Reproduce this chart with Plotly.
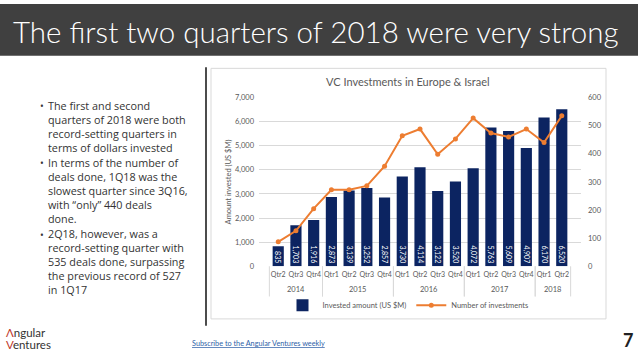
import plotly.graph_objects as go

W, H = 638, 359

# ---- data ----
years = ["2014"] * 3 + ["2015"] * 4 + ["2016"] * 4 + ["2017"] * 4 + ["2018"] * 2
quarters = ["Qtr2", "Qtr3", "Qtr4",
            "Qtr1", "Qtr2", "Qtr3", "Qtr4",
            "Qtr1", "Qtr2", "Qtr3", "Qtr4",
            "Qtr1", "Qtr2", "Qtr3", "Qtr4",
            "Qtr1", "Qtr2"]
invested = [835, 1703, 1916, 2873, 3139, 3252, 2857, 3730, 4114, 3122, 3520,
            4072, 5763, 5609, 4907, 6170, 6520]
deals = [87, 126, 205, 272, 272, 286, 356, 464, 488, 398, 453, 527, 474, 460,
         488, 440, 535]
left_ticks = [0, 1000, 2000, 3000, 4000, 5000, 6000, 7000]
right_ticks = [0, 100, 200, 300, 400, 500, 600]

title = "The first two quarters of 2018 were very strong"
chart_title = "VC Investments in Europe & Israel"
bullets = [
    ["The first and second", "quarters of 2018 were both",
     "record-setting quarters in", "terms of dollars invested"],
    ["In terms of the number of", "deals done, 1Q18 was the",
     "slowest quarter since 3Q16,", "with \u201conly\u201d 440 deals", "done."],
    ["2Q18, however, was a", "record-setting quarter with",
     "535 deals done, surpassing", "the previous record of 527", "in 1Q17"],
]

NAVY = "#0C2461"
ORANGE = "#ED7D31"
GRAY = "#595959"
FONT = "Lato"
BODY_FONT = "Open Sans"

cats = [f"{q} {y}" for q, y in zip(quarters, years)]


def px(x):
    return x / W


def py(y):
    return 1 - y / H


fig = go.Figure()
fig.add_trace(go.Bar(
    x=cats, y=invested, name="Invested amount (US $M)",
    marker=dict(color=NAVY, line=dict(width=0)),
    texttemplate="%{y:,}", textposition="inside", insidetextanchor="start",
    textangle=90, constraintext="none",
    textfont=dict(color="white", size=7, family=FONT),
    yaxis="y",
))
fig.add_trace(go.Scatter(
    x=cats, y=deals, name="Number of investments",
    mode="lines+markers", line=dict(color=ORANGE, width=2),
    marker=dict(color=ORANGE, size=5), yaxis="y2",
))

x0, x1 = px(259), px(581)
y0, y1 = py(269), py(96)

fig.update_layout(
    width=W, height=H, margin=dict(l=0, r=0, t=0, b=0),
    paper_bgcolor="white", plot_bgcolor="white",
    font=dict(family=FONT, color=GRAY),
    bargap=0.37,
    showlegend=True,
    legend=dict(orientation="h", x=px(408), xanchor="center", y=py(309),
                yanchor="middle", font=dict(size=7.5, color=GRAY),
                tracegroupgap=0, bgcolor="rgba(0,0,0,0)"),
    xaxis=dict(domain=[x0, x1], type="category", showgrid=False,
               showline=False, ticks="", tickangle=0,
               tickvals=cats, ticktext=quarters,
               tickfont=dict(size=7, color=GRAY), ticklabelstandoff=3),
    yaxis=dict(domain=[y0, y1], range=[0, 7000], tickvals=left_ticks,
               tickformat=",", showgrid=True, gridcolor="#D9D9D9",
               gridwidth=1, zeroline=False, showline=False,
               tickfont=dict(size=7.5, color=GRAY), ticklabelstandoff=4),
    yaxis2=dict(overlaying="y", side="right", range=[0, 600],
                tickvals=right_ticks, showgrid=False, zeroline=False,
                showline=False, tickfont=dict(size=7.5, color=GRAY),
                ticklabelstandoff=6),
)

shapes = [
    dict(type="rect", xref="paper", yref="paper", x0=0, x1=1, y0=py(53),
         y1=1, fillcolor="#404040", line=dict(width=0), layer="below"),
    dict(type="rect", xref="paper", yref="paper", x0=px(211), x1=px(606),
         y0=py(323), y1=py(66), line=dict(color="#D9D9D9", width=1),
         fillcolor="rgba(0,0,0,0)"),
    dict(type="line", xref="paper", yref="paper", x0=px(206), x1=px(206),
         y0=py(330), y1=py(65), line=dict(color="#111111", width=1.5)),
]

# year group labels and dividers, placed on the category axis
groups = []
for i, yv in enumerate(years):
    if not groups or groups[-1][0] != yv:
        groups.append([yv, i, i])
    else:
        groups[-1][2] = i
ann = []
for yv, a, b in groups:
    ann.append(dict(text=yv, x=(a + b) / 2, xref="x", y=py(293), yref="paper",
                    xanchor="center", yanchor="middle", showarrow=False,
                    font=dict(size=7.5, color=GRAY, family=FONT)))
    for edge in (a - 0.5, b + 0.5):
        shapes.append(dict(type="line", xref="x", yref="paper", x0=edge,
                           x1=edge, y0=py(300), y1=py(269),
                           line=dict(color="#D9D9D9", width=1)))
fig.update_layout(shapes=shapes)

ann += [
    dict(text=title, x=px(11), y=py(28), xanchor="left", yanchor="middle",
         font=dict(size=29.5, color="white", family=FONT, weight=300)),
    dict(text=chart_title, x=px(408), y=py(79), xanchor="center",
         yanchor="middle", font=dict(size=11, color=GRAY, family=FONT)),
    dict(text="Amount invested (US $M)", x=px(228), y=py(182),
         xanchor="center", yanchor="middle", textangle=-90,
         font=dict(size=7.5, color=GRAY, family=FONT)),
    dict(text="<span style='color:#C0392B'>\u039b</span>ngular", x=px(4),
         y=py(337), xanchor="left", yanchor="middle",
         font=dict(size=11.5, color="#333333", family=FONT)),
    dict(text="<span style='color:#C0392B'>V</span>entures", x=px(4),
         y=py(349), xanchor="left", yanchor="middle",
         font=dict(size=11.5, color="#333333", family=FONT)),
    dict(text="<u>Subscribe to the Angular Ventures weekly</u>", x=px(258),
         y=py(348), xanchor="center", yanchor="middle",
         font=dict(size=7.3, color="#2E5FA8", family=FONT)),
    dict(text="<b>7</b>", x=px(628), y=py(345), xanchor="center",
         yanchor="middle", font=dict(size=18, color="#222222", family=FONT)),
]

# bullet paragraphs: top of the first line of each paragraph
para_top = [94, 152.5, 226]
for para, top in zip(bullets, para_top):
    ann.append(dict(text="\u2022", x=px(38), y=py(top + 11), xanchor="left",
                    yanchor="middle",
                    font=dict(size=10, color="#333333", family=BODY_FONT)))
    ann.append(dict(text="<br>".join(para), x=px(46), y=py(top),
                    xanchor="left", yanchor="top", align="left",
                    font=dict(size=10.8, color="#333333", family=BODY_FONT)))

for a in ann:
    a.setdefault("xref", "paper")
    a.setdefault("yref", "paper")
    a["showarrow"] = False
fig.update_layout(annotations=ann)

fig.write_html(
    "out.html",
    config={"displayModeBar": False},
    post_script="document.body.style.margin='0px';"
                "document.body.style.overflow='hidden';",
)
